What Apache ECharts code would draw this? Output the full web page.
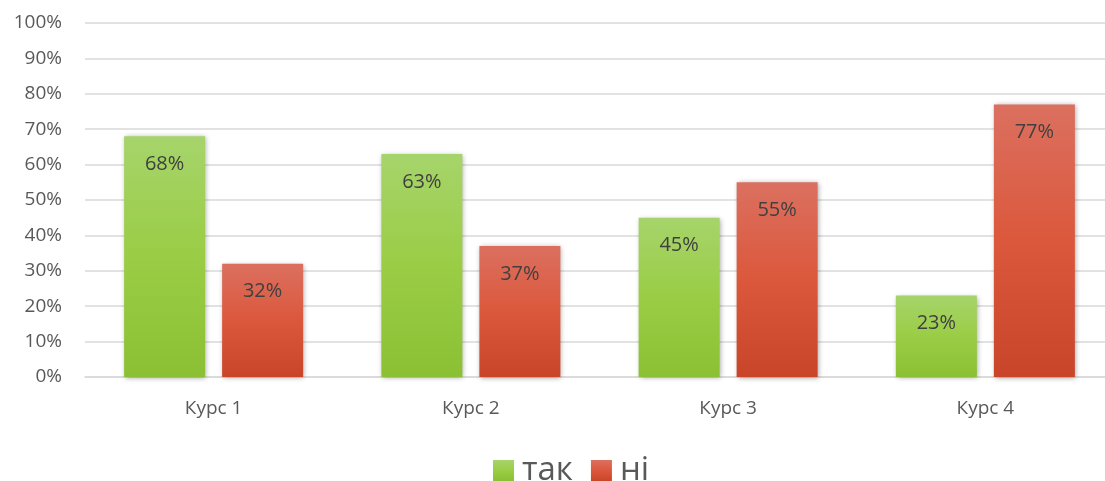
<!DOCTYPE html>
<html><head><meta charset="utf-8">
<script src="https://cdn.jsdelivr.net/npm/echarts@6/dist/echarts.min.js"></script>
<style>html,body{margin:0;padding:0;background:#fff;overflow:hidden;width:1105px;height:481px}#c{width:1115px;height:481px}</style>
</head><body><div id="c"></div>
<script>
const categories = ['Курс 1', 'Курс 2', 'Курс 3', 'Курс 4'];
const seriesNames = ['так', 'ні'];
const yesValues = [68, 63, 45, 23];
const noValues = [32, 37, 55, 77];

const font = '"Open Sans", "Noto Sans", sans-serif';
function grad(top, mid, bottom) {
  return new echarts.graphic.LinearGradient(0, 0, 0, 1, [
    {offset: 0, color: top}, {offset: 0.5, color: mid}, {offset: 1, color: bottom}
  ]);
}
const greenFill = grad('#a6d46b', '#9acd45', '#8bc034');
const redFill = grad('#db7060', '#db583c', '#c8452a');
const labelCfg = {
  show: true, position: 'insideTop', distance: 18,
  formatter: p => p.value + '%', color: '#404040', fontSize: 20, fontFamily: font
};
const shadow = {shadowBlur: 5, shadowColor: 'rgba(0,0,0,0.35)', shadowOffsetX: 1, shadowOffsetY: 1};

const chart = echarts.init(document.getElementById('c'));
chart.setOption({
  animation: false,
  grid: {left: 85, right: 1, top: 23, bottom: 104},
  legend: {
    top: 449, left: 488, itemWidth: 21, itemHeight: 21, itemGap: 18,
    textStyle: {fontSize: 33, color: '#595959', fontFamily: font, padding: [0, 0, 0, 3]},
    data: seriesNames.map(n => ({name: n, icon: 'rect'}))
  },
  xAxis: {
    type: 'category', data: categories,
    axisLine: {lineStyle: {color: '#d9d9d9', width: 1.5}},
    axisTick: {show: false},
    axisLabel: {color: '#595959', fontSize: 19, fontFamily: font, margin: 22}
  },
  yAxis: {
    type: 'value', min: 0, max: 100, interval: 10,
    axisLabel: {formatter: '{value}%', color: '#595959', fontSize: 19, fontFamily: font, margin: 23},
    splitLine: {lineStyle: {color: '#d9d9d9', width: 1.5}},
    axisLine: {show: false}, axisTick: {show: false}
  },
  series: [
    {name: seriesNames[0], type: 'bar', data: yesValues, barWidth: 81, barGap: '21%',
     itemStyle: Object.assign({color: greenFill}, shadow), label: labelCfg},
    {name: seriesNames[1], type: 'bar', data: noValues, barWidth: 81,
     itemStyle: Object.assign({color: redFill}, shadow), label: labelCfg}
  ]
});
</script></body></html>
